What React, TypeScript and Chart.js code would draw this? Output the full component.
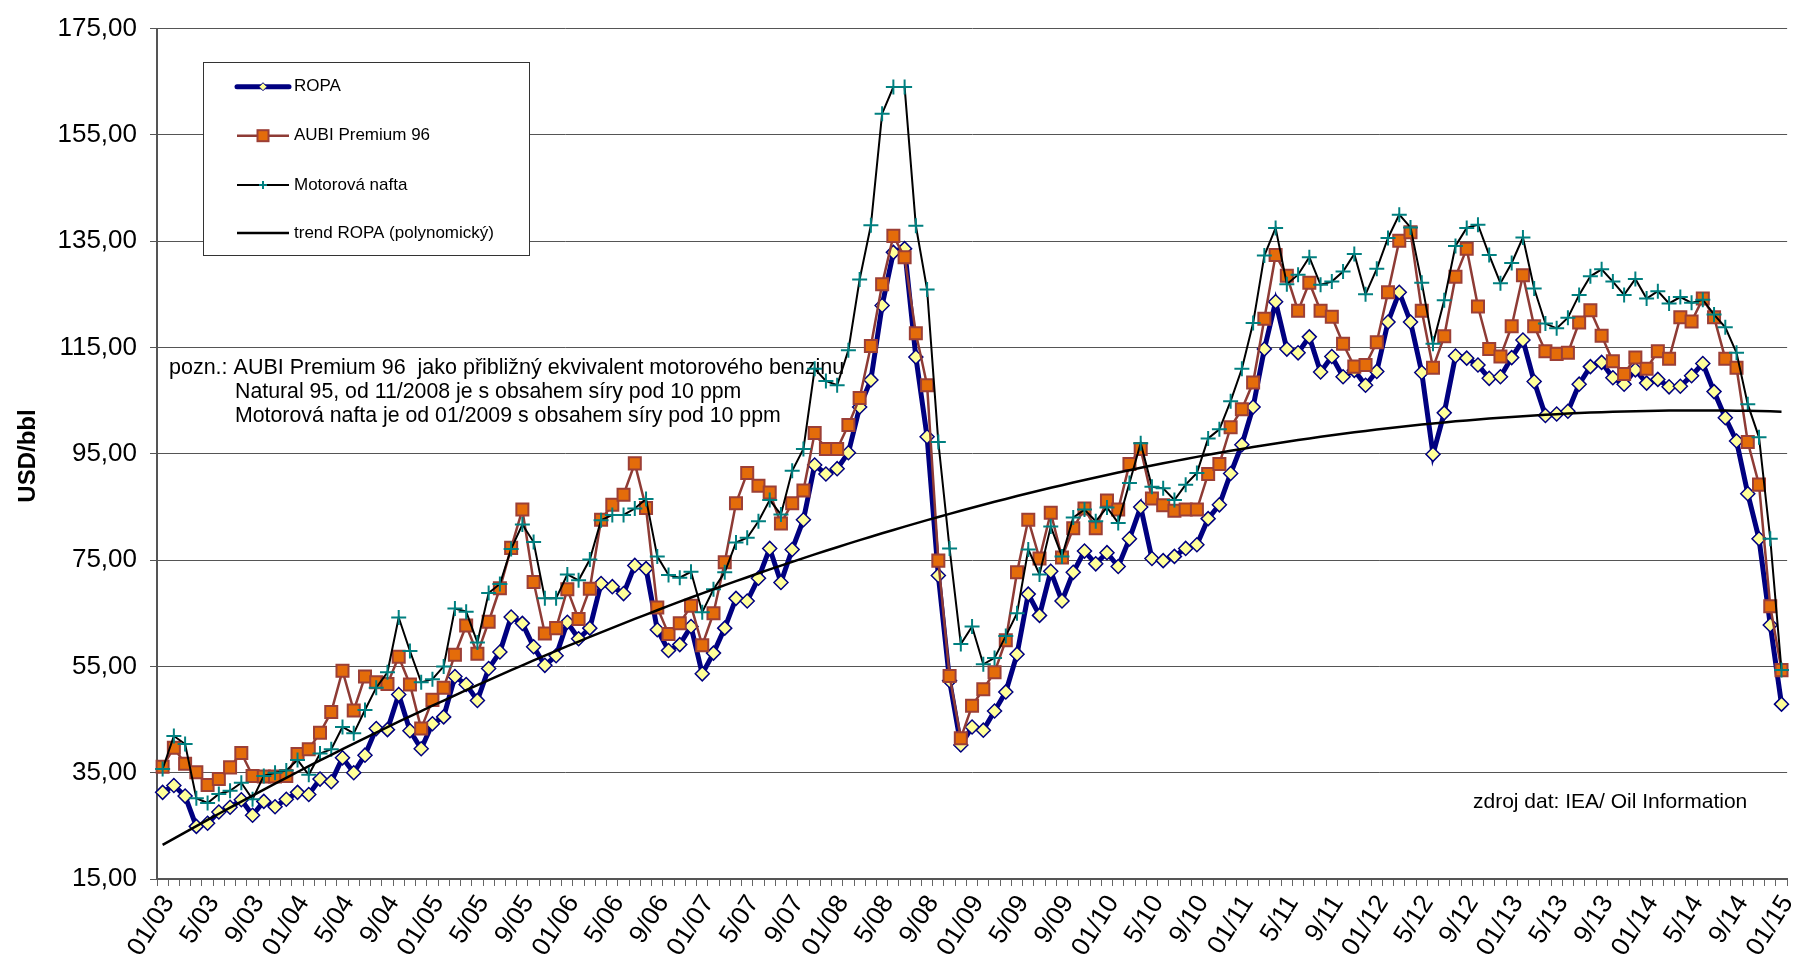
import React, { useEffect, useRef } from 'react';
import { Chart, registerables } from 'chart.js';

Chart.register(...registerables);

const FONT = '"Liberation Sans", Arial, Helvetica, sans-serif';

const CATEGORIES: string[] = [];
for (let y = 3; y <= 15; y++) {
  for (let m = 1; m <= 12; m++) {
    if (y === 15 && m > 1) break;
    CATEGORIES.push(`${m}/${String(y).padStart(2, '0')}`);
  }
}

const TICK_LABELS = [
  '01/03', '5/03', '9/03', '01/04', '5/04', '9/04', '01/05', '5/05', '9/05',
  '01/06', '5/06', '9/06', '01/07', '5/07', '9/07', '01/08', '5/08', '9/08',
  '01/09', '5/09', '9/09', '01/10', '5/10', '9/10', '01/11', '5/11', '9/11',
  '01/12', '5/12', '9/12', '01/13', '5/13', '9/13', '01/14', '5/14', '9/14', '01/15',
];

const Y_TICKS = [15, 35, 55, 75, 95, 115, 135, 155, 175];

const ROPA = [
  31.3, 32.6, 30.6, 24.9, 25.5, 27.6, 28.5, 29.9, 27.0, 29.6, 28.6, 30.0,
  31.3, 30.9, 33.8, 33.3, 37.8, 35.0, 38.3, 43.3, 43.1, 49.7, 42.9, 39.5,
  44.2, 45.5, 53.1, 51.6, 48.6, 54.6, 57.7, 64.3, 63.1, 58.7, 55.2, 57.0,
  63.3, 60.2, 62.2, 70.6, 70.0, 68.7, 74.0, 73.4, 61.9, 58.0, 59.1, 62.5,
  53.6, 57.5, 62.2, 67.8, 67.3, 71.6, 77.2, 70.8, 77.0, 82.6, 92.9, 91.2,
  92.2, 95.2, 103.8, 108.9, 122.9, 132.9, 133.6, 113.2, 98.2, 72.1, 52.3, 40.2,
  43.6, 43.0, 46.6, 50.2, 57.3, 68.6, 64.6, 72.9, 67.3, 72.7, 76.7, 74.3,
  76.4, 73.8, 79.0, 85.0, 75.3, 74.9, 75.7, 77.2, 77.9, 82.8, 85.4, 91.3,
  96.7, 103.8, 114.7, 123.6, 114.7, 114.0, 117.0, 110.4, 113.3, 109.5, 110.7, 107.9,
  110.5, 119.8, 125.4, 119.8, 110.3, 94.9, 102.7, 113.4, 113.0, 111.7, 109.2, 109.5,
  113.1, 116.4, 108.6, 102.2, 102.5, 103.0, 108.1, 111.4, 112.2, 109.3, 108.1, 110.8,
  108.3, 109.0, 107.6, 107.7, 109.7, 112.0, 106.7, 101.8, 97.4, 87.5, 79.0, 62.8,
  47.9,
];

const AUBI = [
  36.1, 39.7, 36.7, 35.1, 32.7, 33.8, 36.0, 38.7, 34.4, 34.3, 34.3, 34.4,
  38.5, 39.4, 42.5, 46.4, 54.2, 46.7, 53.1, 52.0, 51.7, 56.8, 51.6, 43.3,
  48.7, 51.0, 57.2, 62.7, 57.4, 63.4, 69.7, 77.3, 84.5, 70.9, 61.2, 62.2,
  69.5, 63.9, 69.6, 82.6, 85.4, 87.3, 93.2, 84.8, 66.1, 61.1, 63.1, 66.4,
  59.0, 65.0, 74.6, 85.7, 91.4, 89.0, 87.7, 81.9, 85.7, 88.1, 98.9, 95.9,
  95.9, 100.4, 105.5, 115.3, 126.9, 136.0, 132.0, 117.7, 107.9, 74.9, 53.2, 41.5,
  47.6, 50.7, 53.9, 59.9, 72.7, 82.6, 75.3, 83.9, 75.5, 81.0, 84.7, 81.0,
  86.2, 84.5, 93.1, 95.9, 86.6, 85.3, 84.3, 84.5, 84.5, 91.2, 93.1, 100.0,
  103.4, 108.4, 120.4, 132.4, 128.5, 121.9, 127.2, 121.9, 120.8, 115.7, 111.4, 111.7,
  116.0, 125.4, 135.1, 136.7, 121.9, 111.2, 117.1, 128.3, 133.6, 122.7, 114.7, 113.3,
  119.0, 128.6, 119.0, 114.3, 113.8, 114.0, 119.7, 122.0, 117.2, 112.4, 110.0, 113.1,
  111.0, 114.3, 112.9, 120.7, 119.9, 124.2, 120.7, 112.9, 111.2, 97.2, 89.2, 66.3,
  54.3,
];

const NAFTA = [
  35.7, 41.9, 40.4, 30.2, 29.3, 31.0, 31.6, 33.1, 30.0, 34.4, 35.0, 35.4,
  37.4, 34.6, 38.6, 39.4, 43.6, 42.4, 46.8, 51.0, 53.9, 64.2, 57.9, 52.0,
  52.6, 55.0, 65.9, 65.3, 59.5, 68.8, 70.5, 77.1, 81.7, 78.4, 67.8, 67.8,
  72.3, 71.2, 75.1, 82.5, 83.5, 83.5, 84.7, 86.5, 75.7, 72.2, 71.7, 72.8,
  65.2, 69.5, 72.7, 78.3, 79.2, 82.3, 86.3, 83.6, 91.8, 95.9, 111.0, 108.7,
  107.9, 114.5, 127.8, 138.0, 159.0, 164.0, 164.0, 137.9, 125.9, 97.2, 77.2, 59.2,
  62.5, 55.4, 56.6, 60.7, 65.0, 77.0, 72.3, 81.3, 75.7, 83.0, 84.5, 82.3,
  84.9, 82.0, 89.5, 97.0, 88.8, 88.5, 86.3, 89.2, 91.4, 97.9, 99.6, 104.9,
  111.0, 119.6, 132.3, 137.5, 126.9, 128.7, 132.0, 126.8, 127.4, 129.3, 132.6, 125.0,
  129.8, 135.6, 140.0, 137.6, 127.2, 115.7, 123.9, 134.1, 137.5, 138.1, 132.4, 127.1,
  130.9, 135.7, 126.1, 119.5, 118.6, 120.6, 124.9, 128.4, 129.7, 127.4, 124.9, 127.9,
  124.2, 125.6, 123.3, 124.5, 123.4, 124.0, 121.2, 118.8, 114.0, 104.3, 98.1, 79.0,
  54.3,
];

const SERIES_NAMES = ['ROPA', 'AUBI Premium 96', 'Motorová nafta', 'trend ROPA (polynomický)'];

const NOTE_LINES = [
  'pozn.: AUBI Premium 96  jako přibližný ekvivalent motorového benzinu',
  'Natural 95, od 11/2008 je s obsahem síry pod 10 ppm',
  'Motorová nafta je od 01/2009 s obsahem síry pod 10 ppm',
];
const SOURCE_TEXT = 'zdroj dat: IEA/ Oil Information';
const Y_TITLE = 'USD/bbl';

// Least-squares polynomial (order 2) trend of ROPA, like the spreadsheet trendline
function polyTrend(values: number[], order: number): number[] {
  const n = values.length;
  const m = order + 1;
  const xs = values.map((_, i) => (i - (n - 1) / 2) / ((n - 1) / 2));
  const A: number[][] = [];
  for (let r = 0; r < m; r++) {
    const row: number[] = [];
    for (let c = 0; c < m; c++) {
      let s = 0;
      for (let i = 0; i < n; i++) s += Math.pow(xs[i], r + c);
      row.push(s);
    }
    let t = 0;
    for (let i = 0; i < n; i++) t += values[i] * Math.pow(xs[i], r);
    row.push(t);
    A.push(row);
  }
  for (let c = 0; c < m; c++) {
    for (let r = c + 1; r < m; r++) {
      const f = A[r][c] / A[c][c];
      for (let k = c; k <= m; k++) A[r][k] -= f * A[c][k];
    }
  }
  const coef = new Array(m).fill(0);
  for (let r = m - 1; r >= 0; r--) {
    let s = A[r][m];
    for (let k = r + 1; k < m; k++) s -= A[r][k] * coef[k];
    coef[r] = s / A[r][r];
  }
  return xs.map((x) => coef.reduce((acc, c, k) => acc + c * Math.pow(x, k), 0));
}

const TREND = polyTrend(ROPA, 2);

const W = 1812;
const H = 964;
const PLOT_LEFT = 157;
const PLOT_RIGHT = 1805.7;
const PLOT_TOP = 22.5;
const PLOT_BOTTOM = 879;

const decorPlugin = {
  id: 'decor',
  beforeDatasetsDraw(chart: any) {
    const ctx = chart.ctx as CanvasRenderingContext2D;
    ctx.save();
    ctx.fillStyle = '#000';
    ctx.textBaseline = 'middle';
    ctx.textAlign = 'left';
    ctx.font = `21.5px ${FONT}`;
    ctx.fillText(NOTE_LINES[0], 169, 368);
    ctx.font = `21.3px ${FONT}`;
    ctx.fillText(NOTE_LINES[1], 235, 392);
    ctx.fillText(NOTE_LINES[2], 235, 416.5);
    ctx.font = `21px ${FONT}`;
    ctx.fillText(SOURCE_TEXT, 1473, 802);
    ctx.restore();
  },
  afterDraw(chart: any) {
    const ctx = chart.ctx as CanvasRenderingContext2D;
    ctx.save();
    ctx.translate(28, 456);
    ctx.rotate(-Math.PI / 2);
    ctx.font = `bold 24px ${FONT}`;
    ctx.fillStyle = '#000';
    ctx.textAlign = 'center';
    ctx.textBaseline = 'middle';
    ctx.fillText(Y_TITLE, 0, 0);
    ctx.restore();

    ctx.save();
    const bx = 203.5, by = 62.5, bw = 326, bh = 193;
    ctx.fillStyle = '#fff';
    ctx.fillRect(bx, by, bw, bh);
    ctx.strokeStyle = '#333';
    ctx.lineWidth = 1;
    ctx.strokeRect(bx, by, bw, bh);
    const rows = [86.7, 135.7, 185, 233];
    const x0 = 237, x1 = 289, xm = 263;
    ctx.font = `17px ${FONT}`;
    ctx.textBaseline = 'middle';
    ctx.textAlign = 'left';
    ctx.strokeStyle = '#000080'; ctx.lineWidth = 5; ctx.lineCap = 'round';
    ctx.beginPath(); ctx.moveTo(x0, rows[0]); ctx.lineTo(x1, rows[0]); ctx.stroke();
    ctx.lineCap = 'butt';
    ctx.beginPath();
    ctx.moveTo(xm, rows[0] - 4); ctx.lineTo(xm + 4, rows[0]); ctx.lineTo(xm, rows[0] + 4); ctx.lineTo(xm - 4, rows[0]); ctx.closePath();
    ctx.fillStyle = '#FFFF99'; ctx.fill(); ctx.lineWidth = 1; ctx.strokeStyle = '#000080'; ctx.stroke();
    ctx.strokeStyle = '#8E3B35'; ctx.lineWidth = 2.5;
    ctx.beginPath(); ctx.moveTo(x0, rows[1]); ctx.lineTo(x1, rows[1]); ctx.stroke();
    ctx.fillStyle = '#E46C0A'; ctx.fillRect(xm - 5.5, rows[1] - 5.5, 11, 11);
    ctx.strokeStyle = '#9C3F36'; ctx.lineWidth = 2; ctx.strokeRect(xm - 5.5, rows[1] - 5.5, 11, 11);
    ctx.strokeStyle = '#000'; ctx.lineWidth = 2;
    ctx.beginPath(); ctx.moveTo(x0, rows[2]); ctx.lineTo(x1, rows[2]); ctx.stroke();
    ctx.strokeStyle = '#008080'; ctx.lineWidth = 2;
    ctx.beginPath(); ctx.moveTo(xm - 4, rows[2]); ctx.lineTo(xm + 4, rows[2]); ctx.moveTo(xm, rows[2] - 4); ctx.lineTo(xm, rows[2] + 4); ctx.stroke();
    ctx.strokeStyle = '#000'; ctx.lineWidth = 2.5;
    ctx.beginPath(); ctx.moveTo(x0, rows[3]); ctx.lineTo(x1, rows[3]); ctx.stroke();
    ctx.fillStyle = '#000';
    SERIES_NAMES.forEach((name, i) => ctx.fillText(name, 294, rows[i]));
    ctx.restore();
  },
};

export default function App() {
  const ref = useRef<HTMLCanvasElement | null>(null);

  useEffect(() => {
    if (!ref.current) return;
    const chart = new Chart(ref.current, {
      type: 'line',
      data: {
        labels: CATEGORIES,
        datasets: [
          {
            label: SERIES_NAMES[0], data: ROPA, order: 4,
            borderColor: '#000080', borderWidth: 5,
            pointStyle: 'rectRot', pointRadius: 7,
            pointBackgroundColor: '#FFFF99', pointBorderColor: '#000080', pointBorderWidth: 1.5,
            tension: 0,
          },
          {
            label: SERIES_NAMES[1], data: AUBI, order: 3,
            borderColor: '#8E3B35', borderWidth: 2.5,
            pointStyle: 'rect', pointRadius: 8.5,
            pointBackgroundColor: '#E46C0A', pointBorderColor: '#9C3F36', pointBorderWidth: 2,
            tension: 0,
          },
          {
            label: SERIES_NAMES[2], data: NAFTA, order: 2,
            borderColor: '#000000', borderWidth: 2,
            pointStyle: 'cross', pointRadius: 7.5,
            pointBorderColor: '#008080', pointBorderWidth: 2,
            tension: 0,
          },
          {
            label: SERIES_NAMES[3], data: TREND, order: 1,
            borderColor: '#000000', borderWidth: 2.5, pointRadius: 0, tension: 0,
          },
        ],
      },
      options: {
        animation: false,
        responsive: false,
        maintainAspectRatio: false,
        events: [],
        layout: { padding: { left: 0, right: W - PLOT_RIGHT, top: PLOT_TOP, bottom: 0 } },
        plugins: { legend: { display: false }, tooltip: { enabled: false }, title: { display: false } },
        scales: {
          x: {
            type: 'category',
            offset: true,
            grid: { offset: true, drawOnChartArea: false, drawTicks: true, tickLength: 7, color: '#666', lineWidth: 1 },
            border: { display: true, color: '#555', width: 2 },
            ticks: {
              autoSkip: false, maxRotation: 58, minRotation: 58, padding: 4, labelOffset: 6, color: '#000',
              font: { family: FONT, size: 26 },
              callback: (_v: any, i: number) => (i % 4 === 0 ? TICK_LABELS[i / 4] : ''),
            },
            afterFit: (s: any) => { s.height = H - PLOT_BOTTOM; },
          },
          y: {
            type: 'linear',
            min: Y_TICKS[0],
            max: Y_TICKS[Y_TICKS.length - 1],
            afterBuildTicks: (s: any) => { s.ticks = Y_TICKS.map((v) => ({ value: v })); },
            grid: { color: '#555', lineWidth: 1, drawTicks: true, tickLength: 7 },
            border: { display: true, color: '#555', width: 2 },
            ticks: {
              padding: 13, color: '#000',
              font: { family: FONT, size: 26 },
              callback: (v: any) => Number(v).toFixed(2).replace('.', ','),
            },
            afterFit: (s: any) => { s.width = PLOT_LEFT; },
          },
        },
      },
      plugins: [decorPlugin],
    });
    return () => chart.destroy();
  }, []);

  return (
    <div style={{ position: 'fixed', left: 0, top: 0, width: 1804, height: 964, overflow: 'hidden', background: '#fff' }}>
      <canvas ref={ref} width={W} height={H} style={{ width: W, height: H, display: 'block' }} />
    </div>
  );
}
